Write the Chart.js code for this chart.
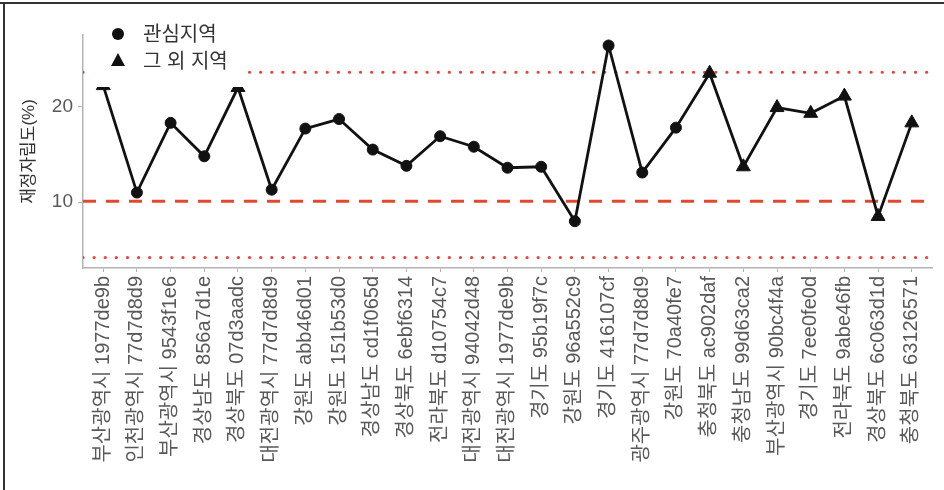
<!DOCTYPE html>
<html lang="ko">
<head>
<meta charset="utf-8">
<title>재정자립도</title>
<script src="https://cdn.jsdelivr.net/npm/chart.js@4.4.1/dist/chart.umd.min.js"></script>
<style>
  html, body { margin: 0; padding: 0; background: #fff; }
  #wrap { width: 944px; height: 490px; position: relative; }
</style>
</head>
<body>
<div id="wrap"><canvas id="myChart" width="944" height="490"></canvas></div>
<script>
// regions (name + id), left to right
const regions = [
  "부산광역시 1977de9b", "인천광역시 77d7d8d9", "부산광역시 9543f1e6", "경상남도 856a7d1e",
  "경상북도 07d3aadc", "대전광역시 77d7d8d9", "강원도 abb46d01", "강원도 151b53d0",
  "경상남도 cd1f065d", "경상북도 6ebf6314", "전라북도 d10754c7", "대전광역시 94042d48",
  "대전광역시 1977de9b", "경기도 95b19f7c", "강원도 96a552c9", "경기도 416107cf",
  "광주광역시 77d7d8d9", "강원도 70a40fe7", "충청북도 ac902daf", "충청남도 99d63ca2",
  "부산광역시 90bc4f4a", "경기도 7ee0fe0d", "전라북도 9abe46fb", "경상북도 6c063d1d",
  "충청북도 63126571"
];

// 재정자립도 (%)
const selfReliance = [
  22.2, 11.0, 18.3, 14.8, 22.0, 11.3, 17.7, 18.7, 15.5, 13.8, 16.9, 15.8, 13.6,
  13.7, 8.0, 26.4, 13.1, 17.8, 23.5, 13.7, 19.9, 19.3, 21.1, 8.5, 18.3
];

// true = 관심지역, false = 그 외 지역
const isFocus = [
  false, true, true, true, false, true, true, true, true, true, true, true, true,
  true, true, true, true, true, false, false, false, false, false, false, false
];

const upperLimit = 23.6;
const centerLine = 10.1;
const lowerLimit = 4.2;
const yTicks = [10, 20];

const legendItems = [
  { label: "관심지역", style: "circle" },
  { label: "그 외 지역", style: "triangle" }
];

const X_MIN = -0.6, X_MAX = regions.length - 1 + 0.6;
const FONT = '"Liberation Sans", "Noto Sans CJK KR", sans-serif';

function hline(value) {
  return [{ x: X_MIN, y: value }, { x: X_MAX, y: value }];
}

// white legend box over the panel, plus the frame lines
const overlay = {
  id: "overlay",
  afterDatasetsDraw(chart) {
    const ctx = chart.ctx;
    ctx.save();
    ctx.fillStyle = "#fff";
    ctx.fillRect(86, 12, 157, 75);
    legendItems.forEach((item, i) => {
      const cx = 118, cy = 34 + i * 27;
      ctx.fillStyle = "#111";
      ctx.beginPath();
      if (item.style === "circle") {
        ctx.arc(cx, cy, 6, 0, Math.PI * 2);
      } else {
        ctx.moveTo(cx, cy - 8);
        ctx.lineTo(cx + 7, cy + 5);
        ctx.lineTo(cx - 7, cy + 5);
        ctx.closePath();
      }
      ctx.fill();
      ctx.fillStyle = "#333";
      ctx.font = "20px " + FONT;
      ctx.textBaseline = "middle";
      ctx.textAlign = "left";
      ctx.fillText(item.label, 143, cy + 1);
    });
    ctx.restore();
  },
  afterDraw(chart) {
    const ctx = chart.ctx;
    ctx.save();
    ctx.strokeStyle = "#333";
    ctx.lineWidth = 2;
    ctx.beginPath();
    ctx.moveTo(0, 3);
    ctx.lineTo(944, 3);
    ctx.moveTo(4, 2);
    ctx.lineTo(4, 490);
    ctx.stroke();
    ctx.restore();
  }
};

const ctx = document.getElementById("myChart").getContext("2d");
const myChart = new Chart(ctx, {
  type: "line",
  data: {
    datasets: [
      {
        label: "재정자립도",
        data: selfReliance.map((v, i) => ({ x: i, y: v })),
        borderColor: "#111",
        backgroundColor: "#111",
        borderWidth: 2.8,
        tension: 0,
        pointStyle: isFocus.map(f => (f ? "circle" : "triangle")),
        pointRadius: isFocus.map(f => (f ? 5.5 : 8)),
        pointBorderWidth: 1,
        pointBorderColor: "#111",
        pointBackgroundColor: "#111"
      },
      {
        label: "상한",
        data: hline(upperLimit),
        borderColor: "#e4463b",
        borderWidth: 3.2,
        borderDash: [0.1, 11],
        borderCapStyle: "round",
        pointRadius: 0
      },
      {
        label: "기준",
        data: hline(centerLine),
        borderColor: "#e0492f",
        borderWidth: 3,
        borderDash: [13, 10],
        pointRadius: 0
      },
      {
        label: "하한",
        data: hline(lowerLimit),
        borderColor: "#e4463b",
        borderWidth: 3.2,
        borderDash: [0.1, 11],
        borderCapStyle: "round",
        pointRadius: 0
      }
    ]
  },
  options: {
    responsive: false,
    animation: false,
    layout: { padding: { left: 0, top: 35, right: 12, bottom: 0 } },
    plugins: {
      legend: { display: false },
      tooltip: { enabled: false }
    },
    scales: {
      x: {
        type: "linear",
        min: X_MIN,
        max: X_MAX,
        afterBuildTicks: scale => {
          scale.ticks = regions.map((_, i) => ({ value: i }));
        },
        afterFit: scale => { scale.height = 222; },
        ticks: {
          autoSkip: false,
          minRotation: 90,
          maxRotation: 90,
          padding: 4,
          color: "#595959",
          font: { family: FONT, size: 20 },
          callback: value => regions[value]
        },
        grid: {
          drawOnChartArea: false,
          drawTicks: true,
          tickLength: 4,
          tickColor: "#b3b3b3"
        },
        border: { color: "#b3b3b3", width: 1.5 }
      },
      y: {
        min: 3.1,
        max: 27.5,
        afterBuildTicks: scale => {
          scale.ticks = yTicks.map(v => ({ value: v }));
        },
        afterFit: scale => { scale.width = 83; },
        ticks: {
          padding: 5,
          color: "#595959",
          font: { family: FONT, size: 19 }
        },
        grid: {
          drawOnChartArea: false,
          drawTicks: true,
          tickLength: 5,
          tickColor: "#b3b3b3"
        },
        border: { color: "#b3b3b3", width: 1.5 },
        title: {
          display: true,
          text: "재정자립도(%)",
          color: "#333",
          font: { family: FONT, size: 17 },
          padding: { top: 19, bottom: 0 }
        }
      }
    }
  },
  plugins: [overlay]
});
</script>
</body>
</html>
